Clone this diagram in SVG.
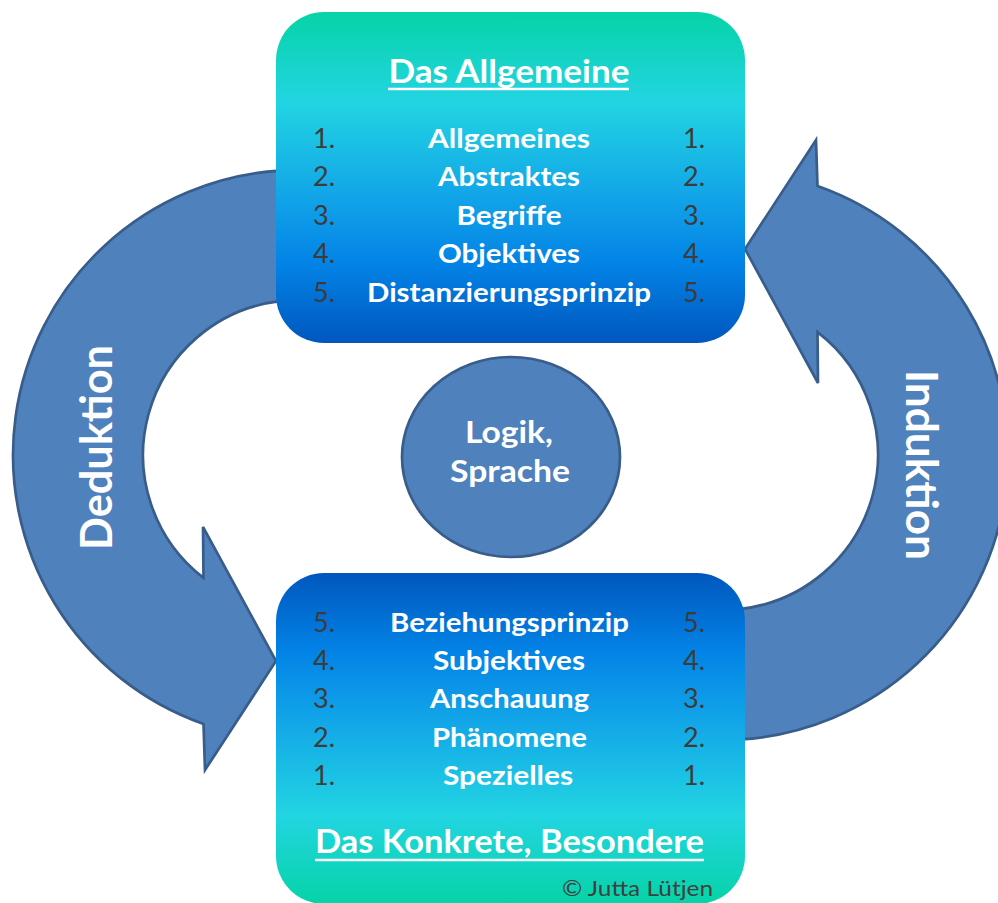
<svg xmlns="http://www.w3.org/2000/svg" xmlns:xlink="http://www.w3.org/1999/xlink" width="998" height="903" viewBox="0 0 998 903">
  <defs>
    <style>
      .item { font-family: Lato, "Open Sans", "Liberation Sans", sans-serif; font-weight: 700; font-size: 27px; fill: #ffffff; text-anchor: middle; }
      .num { font-family: Lato, "Open Sans", "Liberation Sans", sans-serif; font-weight: 400; font-size: 27px; fill: #3c3c3c; }
      .title { font-family: Lato, "Open Sans", "Liberation Sans", sans-serif; font-weight: 700; font-size: 32px; fill: #ffffff; text-anchor: middle; }
      .label { font-family: Lato, "Open Sans", "Liberation Sans", sans-serif; font-weight: 700; font-size: 43px; fill: #ffffff; text-anchor: middle; }
      .core { font-family: Lato, "Open Sans", "Liberation Sans", sans-serif; font-weight: 700; font-size: 31px; fill: #ffffff; text-anchor: middle; }
      .credit { font-family: Lato, "Open Sans", "Liberation Sans", sans-serif; font-weight: 400; font-size: 22px; fill: #404040; }
      .uline { stroke: #ffffff; stroke-width: 2.5; }
      .arrow { fill: #4f81bd; stroke: #385d8a; stroke-width: 2.7; stroke-linejoin: miter; }
    </style>
    <linearGradient id="gradTop" x1="0" y1="0" x2="0" y2="1">
      <stop offset="0" stop-color="#06d3a6"/>
      <stop offset="0.27" stop-color="#22d5e2"/>
      <stop offset="0.55" stop-color="#12a6e8"/>
      <stop offset="0.76" stop-color="#0383e6"/>
      <stop offset="1" stop-color="#0057be"/>
    </linearGradient>
    <linearGradient id="gradBottom" x1="0" y1="1" x2="0" y2="0">
      <stop offset="0" stop-color="#06d3a6"/>
      <stop offset="0.27" stop-color="#22d5e2"/>
      <stop offset="0.55" stop-color="#12a6e8"/>
      <stop offset="0.76" stop-color="#0383e6"/>
      <stop offset="1" stop-color="#0057be"/>
    </linearGradient>
    <!-- curved block arrow, concentric arcs around (298,455) -->
    <path id="curvedArrow" d="M 280,170.6 A 285 285 0 0 0 203.5,723.9 L 205,770 L 276,661 L 203,527 L 203.5,577.9 A 155 155 0 0 1 280,301.1 Z"/>
  </defs>

  <rect width="998" height="903" fill="#ffffff"/>

  <!-- connectors -->
  <g id="connectors">
    <g id="deduktion">
      <use xlink:href="#curvedArrow" class="arrow"/>
      <text class="label" transform="translate(112,447.5) rotate(-90)" x="0" y="0" textLength="205" lengthAdjust="spacingAndGlyphs">Deduktion</text>
    </g>
    <g id="induktion">
      <use xlink:href="#curvedArrow" class="arrow" transform="rotate(180 510.5 455)"/>
      <text class="label" transform="translate(906,465) rotate(90)" x="0" y="0" textLength="190" lengthAdjust="spacingAndGlyphs">Induktion</text>
    </g>
  </g>

  <!-- upper box: the general -->
  <g id="allgemeine">
    <rect x="276" y="12" width="469" height="331" rx="48" ry="48" fill="url(#gradTop)"/>
    <text class="title" x="509" y="83" textLength="241" lengthAdjust="spacingAndGlyphs">Das Allgemeine</text>
    <line class="uline" x1="388" y1="89" x2="629" y2="89"/>
    <text class="num" x="313" y="148">1.</text>
    <text class="num" x="313" y="186">2.</text>
    <text class="num" x="313" y="225">3.</text>
    <text class="num" x="313" y="263">4.</text>
    <text class="num" x="313" y="302">5.</text>
    <text class="num" x="683" y="148">1.</text>
    <text class="num" x="683" y="186">2.</text>
    <text class="num" x="683" y="225">3.</text>
    <text class="num" x="683" y="263">4.</text>
    <text class="num" x="683" y="302">5.</text>
    <text class="item" x="509" y="148" textLength="162" lengthAdjust="spacingAndGlyphs">Allgemeines</text>
    <text class="item" x="509" y="186" textLength="142" lengthAdjust="spacingAndGlyphs">Abstraktes</text>
    <text class="item" x="509" y="225" textLength="105" lengthAdjust="spacingAndGlyphs">Begriffe</text>
    <text class="item" x="509" y="263" textLength="142" lengthAdjust="spacingAndGlyphs">Objektives</text>
    <text class="item" x="509" y="302" textLength="284" lengthAdjust="spacingAndGlyphs">Distanzierungsprinzip</text>
  </g>

  <!-- lower box: the concrete -->
  <g id="konkrete">
    <rect x="276" y="573" width="469" height="331" rx="48" ry="48" fill="url(#gradBottom)"/>
    <text class="num" x="313" y="632">5.</text>
    <text class="num" x="313" y="670">4.</text>
    <text class="num" x="313" y="708">3.</text>
    <text class="num" x="313" y="747">2.</text>
    <text class="num" x="313" y="785">1.</text>
    <text class="num" x="683" y="632">5.</text>
    <text class="num" x="683" y="670">4.</text>
    <text class="num" x="683" y="708">3.</text>
    <text class="num" x="683" y="747">2.</text>
    <text class="num" x="683" y="785">1.</text>
    <text class="item" x="509.5" y="632" textLength="239" lengthAdjust="spacingAndGlyphs">Beziehungsprinzip</text>
    <text class="item" x="509" y="670" textLength="152" lengthAdjust="spacingAndGlyphs">Subjektives</text>
    <text class="item" x="509.5" y="708" textLength="159" lengthAdjust="spacingAndGlyphs">Anschauung</text>
    <text class="item" x="509.5" y="747" textLength="155" lengthAdjust="spacingAndGlyphs">Phänomene</text>
    <text class="item" x="508" y="785" textLength="130" lengthAdjust="spacingAndGlyphs">Spezielles</text>
    <text class="title" x="509.5" y="853" textLength="389" lengthAdjust="spacingAndGlyphs">Das Konkrete, Besondere</text>
    <line class="uline" x1="315" y1="860" x2="704" y2="860"/>
    <text class="credit" x="562" y="896" textLength="151" lengthAdjust="spacingAndGlyphs">© Jutta Lütjen</text>
  </g>

  <!-- centre: logic and language -->
  <g id="logik">
    <ellipse cx="511" cy="457" rx="109" ry="100" fill="#4f81bd" stroke="#385d8a" stroke-width="2.7"/>
    <text class="core" x="509" y="443" textLength="88" lengthAdjust="spacingAndGlyphs">Logik,</text>
    <text class="core" x="510" y="482" textLength="120" lengthAdjust="spacingAndGlyphs">Sprache</text>
  </g>
</svg>
